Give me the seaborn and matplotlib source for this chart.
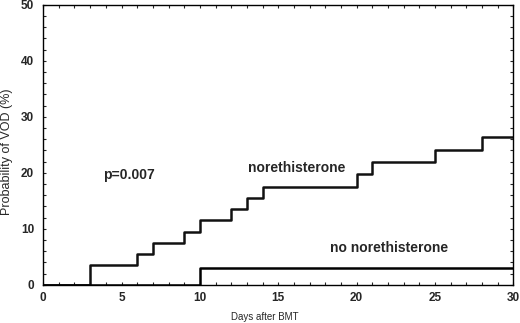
import matplotlib
matplotlib.use('Agg')
import matplotlib.pyplot as plt
import seaborn as sns
import pandas as pd
from matplotlib.ticker import MultipleLocator

# cumulative incidence of VOD
days_nor = [0, 3, 6, 7, 9, 10, 12, 13, 14, 20, 21, 25, 28, 30]
prob_nor = [0, 3.6, 5.5, 7.4, 9.4, 11.5, 13.5, 15.6, 17.4, 19.8, 21.9, 24.1, 26.4, 26.4]

days_no = [0, 10, 30]
prob_no = [0, 3.0, 3.0]

x_ticks = [0, 5, 10, 15, 20, 25, 30]
y_ticks = [0, 10, 20, 30, 40, 50]

df_nor = pd.DataFrame({'day': days_nor, 'prob': prob_nor})
df_no = pd.DataFrame({'day': days_no, 'prob': prob_no})

sns.set_style('ticks')
plt.rcParams['font.family'] = ['Liberation Sans', 'DejaVu Sans']

fig = plt.figure(figsize=(5.2, 3.23), dpi=100)
ax = fig.add_axes([0.083, 0.118, 0.904, 0.867])

sns.lineplot(data=df_nor, x='day', y='prob', drawstyle='steps-post', color='#111111',
             linewidth=1.8, estimator=None, ax=ax)
sns.lineplot(data=df_no, x='day', y='prob', drawstyle='steps-post', color='black',
             linewidth=1.8, estimator=None, ax=ax)

ax.set_xlim(0, 30)
ax.set_ylim(0, 50)
ax.set_xticks(x_ticks)
ax.set_yticks(y_ticks)
ax.xaxis.set_minor_locator(MultipleLocator(1))
ax.yaxis.set_minor_locator(MultipleLocator(2))
ax.tick_params(which='both', direction='in', top=True, right=True, length=2.5, width=0.8)
ax.tick_params(axis='x', which='major', labelsize=8.5, pad=5)
ax.tick_params(axis='y', which='major', labelsize=8.5, pad=6.5)
for lab in ax.get_xticklabels() + ax.get_yticklabels():
    lab.set_fontweight('bold')
for s in ax.spines.values():
    s.set_linewidth(1.0)
    s.set_color('black')

ax.set_xlabel('Days after BMT', fontsize=7)
ax.set_ylabel('Probability of VOD (%)', fontsize=9)
ax.xaxis.set_label_coords(0.472, -0.114)
ax.xaxis.label.set_verticalalignment('center')
ax.yaxis.set_label_coords(-0.077, 0.475)
ax.yaxis.label.set_verticalalignment('center')

ax.text(3.8, 19.6, 'p=0.007', fontsize=10, fontweight='bold', va='center', ha='left')
ax.text(16.2, 20.9, 'norethisterone', fontsize=10, fontweight='bold', va='center', ha='center')
ax.text(22.1, 6.6, 'no norethisterone', fontsize=10, fontweight='bold', va='center', ha='center')

fig.savefig('out.png', dpi=100)
